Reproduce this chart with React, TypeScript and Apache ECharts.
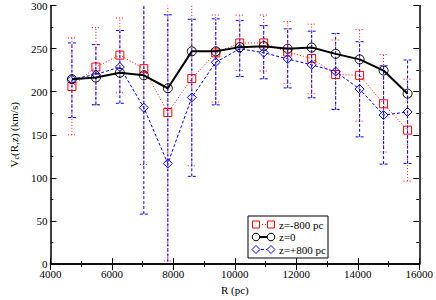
import React, { useEffect, useRef } from "react";
import * as echarts from "echarts";

const R = [4700, 5480, 6260, 7040, 7820, 8600, 9380, 10160, 10940, 11720, 12500, 13280, 14060, 14840, 15620];
const vMinus = [206, 228.6, 242.4, 226.7, 175.8, 215.2, 245, 256.5, 256.5, 246, 238.6, 220, 219, 186, 155.4];
const vMinusLow = [150, 184.8, 198.8, 115.6, 3.7, 114, 188, 224.5, 224, 209.7, 197.7, 180, 165.8, 130, 96.3];
const vMinusHigh = [262.4, 274.3, 285.5, 338, 348, 316, 289, 288.9, 289, 281.4, 278.4, 260, 272, 243, 214.5];
const vZero = [214.5, 216.4, 222, 219, 204, 246.8, 246.8, 251.7, 252.8, 249.8, 251.2, 243.9, 237.5, 224.5, 197.7];
const vPlus = [214.5, 220, 228.6, 181.4, 116.7, 193.3, 234.2, 249.8, 245.3, 237.9, 231.2, 223.4, 203, 172.9, 176.5];
const vPlusLow = [169.9, 184.8, 186.6, 58, -55, 101.8, 184.7, 217.5, 214.9, 204.4, 192.9, 179.2, 147.6, 116, 116.7];
const vPlusHigh = [256.6, 254.6, 271, 304, 289.2, 284, 284.5, 282.5, 276.6, 272.9, 270.2, 267.6, 258, 230, 236.8];

const legendNames = ["z=-800 pc", "z=0", "z=+800 pc"];

const FONT = "Liberation Serif";
const RED = "#ff0000";
const BLUE = "#0000ff";
const BLACK = "#000000";

function errSeries(low: number[], high: number[], color: string, dash: number[]) {
  return {
    type: "custom",
    clip: true,
    silent: true,
    z: 2,
    data: R.map((r, i) => [r, low[i], high[i]]),
    renderItem: (params: any, api: any) => {
      const x = api.value(0);
      const p1 = api.coord([x, api.value(1)]);
      const p2 = api.coord([x, api.value(2)]);
      const w = 4;
      const st = { stroke: color, lineWidth: 1, lineDash: dash, fill: null };
      return {
        type: "group",
        children: [
          { type: "line", shape: { x1: p1[0], y1: p1[1], x2: p2[0], y2: p2[1] }, style: st },
          { type: "line", shape: { x1: p1[0] - w, y1: p1[1], x2: p1[0] + w, y2: p1[1] }, style: st },
          { type: "line", shape: { x1: p2[0] - w, y1: p2[1], x2: p2[0] + w, y2: p2[1] }, style: st },
        ],
      };
    },
  };
}

export default function App() {
  const ref = useRef<HTMLDivElement>(null);
  useEffect(() => {
    if (!ref.current) return;
    const chart = echarts.init(ref.current, null, { renderer: "svg" });
    const axisLine = { show: true, lineStyle: { color: BLACK, width: 1.5 } };
    const lx = 248, ly = 216;
    const legendRows = [
      { y: 224.5, color: RED, dash: [1, 2], shape: "rect", w: 1 },
      { y: 237, color: BLACK, dash: null, shape: "circle", w: 2 },
      { y: 249.5, color: BLUE, dash: [3, 2], shape: "diamond", w: 1 },
    ];
    const graphics: any[] = [
      { type: "rect", shape: { x: lx, y: ly, width: 80, height: 42 }, style: { fill: "#fff", stroke: BLACK, lineWidth: 1 }, z: 10 },
    ];
    legendRows.forEach((row, i) => {
      const x1 = 256, x2 = 271;
      graphics.push({ type: "line", shape: { x1, y1: row.y, x2, y2: row.y }, style: { stroke: row.color, lineWidth: row.w, lineDash: row.dash }, z: 11 });
      [x1, x2].forEach((cx) => {
        if (row.shape === "rect") graphics.push({ type: "rect", shape: { x: cx - 3.5, y: row.y - 3.5, width: 7, height: 7 }, style: { fill: "#fff", stroke: row.color, lineWidth: 1 }, z: 12 });
        else if (row.shape === "circle") graphics.push({ type: "circle", shape: { cx, cy: row.y, r: 3.8 }, style: { fill: "#fff", stroke: row.color, lineWidth: 1 }, z: 12 });
        else graphics.push({ type: "polygon", shape: { points: [[cx, row.y - 4], [cx + 4, row.y], [cx, row.y + 4], [cx - 4, row.y]] }, style: { fill: "#fff", stroke: row.color, lineWidth: 1 }, z: 12 });
      });
      graphics.push({ type: "text", x: 279, y: row.y, style: { text: legendNames[i], font: `11px "${FONT}"`, fill: BLACK, textVerticalAlign: "middle" }, z: 12 });
    });

    chart.setOption({
      animation: false,
      backgroundColor: "#fff",
      grid: { left: 37, right: 15, top: 5, bottom: 26 },
      textStyle: { fontFamily: FONT },
      xAxis: [
        {
          type: "value", min: 4000, max: 16000, interval: 2000,
          name: "R (pc)", nameLocation: "middle", nameGap: 13,
          nameTextStyle: { fontFamily: FONT, fontSize: 11, color: BLACK },
          axisLine, splitLine: { show: false },
          axisTick: { inside: true, length: 6, lineStyle: { color: BLACK } },
          minorTick: { show: true, splitNumber: 2, length: 3, lineStyle: { color: BLACK } },
          axisLabel: { fontFamily: FONT, fontSize: 11, lineHeight: 11, color: BLACK, margin: 4, formatter: (v: number) => String(v) },
        },
        {
          type: "value", min: 4000, max: 16000, interval: 2000, position: "top",
          axisLine, splitLine: { show: false },
          axisTick: { inside: true, length: 6, lineStyle: { color: BLACK } },
          minorTick: { show: true, splitNumber: 2, length: 3, lineStyle: { color: BLACK } },
          axisLabel: { show: false },
        },
      ],
      yAxis: [
        {
          type: "value", min: 0, max: 300, interval: 50,
          name: "V{s|c}(R,z) (km/s)", nameLocation: "middle", nameGap: 27, nameRotate: 90,
          nameTextStyle: { fontFamily: FONT, fontSize: 11, color: BLACK, rich: { s: { fontFamily: FONT, fontSize: 8, padding: [5, 0, 0, 0] } } },
          axisLine, splitLine: { show: false },
          axisTick: { inside: true, length: 6, lineStyle: { color: BLACK } },
          minorTick: { show: true, splitNumber: 2, length: 3, lineStyle: { color: BLACK } },
          axisLabel: { fontFamily: FONT, fontSize: 11, lineHeight: 10, color: BLACK, margin: 3 },
        },
        {
          type: "value", min: 0, max: 300, interval: 50, position: "right",
          axisLine, splitLine: { show: false },
          axisTick: { inside: true, length: 6, lineStyle: { color: BLACK } },
          minorTick: { show: true, splitNumber: 2, length: 3, lineStyle: { color: BLACK } },
          axisLabel: { show: false },
        },
      ],
      series: [
        errSeries(vMinusLow, vMinusHigh, RED, [1, 2]),
        errSeries(vPlusLow, vPlusHigh, BLUE, [3, 2]),
        {
          type: "line", name: legendNames[0], z: 3,
          data: R.map((r, i) => [r, vMinus[i]]),
          symbol: "rect", symbolSize: 8, showAllSymbol: true,
          lineStyle: { color: RED, width: 1, type: [1, 2] },
          itemStyle: { color: "rgba(0,0,0,0)", borderColor: RED, borderWidth: 1 },
        },
        {
          type: "line", name: legendNames[2], z: 4,
          data: R.map((r, i) => [r, vPlus[i]]),
          symbol: "diamond", symbolSize: 9, showAllSymbol: true,
          lineStyle: { color: BLUE, width: 1, type: [3, 2] },
          itemStyle: { color: "rgba(0,0,0,0)", borderColor: BLUE, borderWidth: 1 },
        },
        {
          type: "line", name: legendNames[1], z: 5,
          data: R.map((r, i) => [r, vZero[i]]),
          symbol: "circle", symbolSize: 9, showAllSymbol: true,
          lineStyle: { color: BLACK, width: 2 },
          itemStyle: { color: "rgba(0,0,0,0)", borderColor: BLACK, borderWidth: 1 },
        },
      ],
      graphic: graphics,
    });
    return () => chart.dispose();
  }, []);
  return <div ref={ref} style={{ width: 436, height: 300, position: "absolute", left: 0, top: 0 }} />;
}
